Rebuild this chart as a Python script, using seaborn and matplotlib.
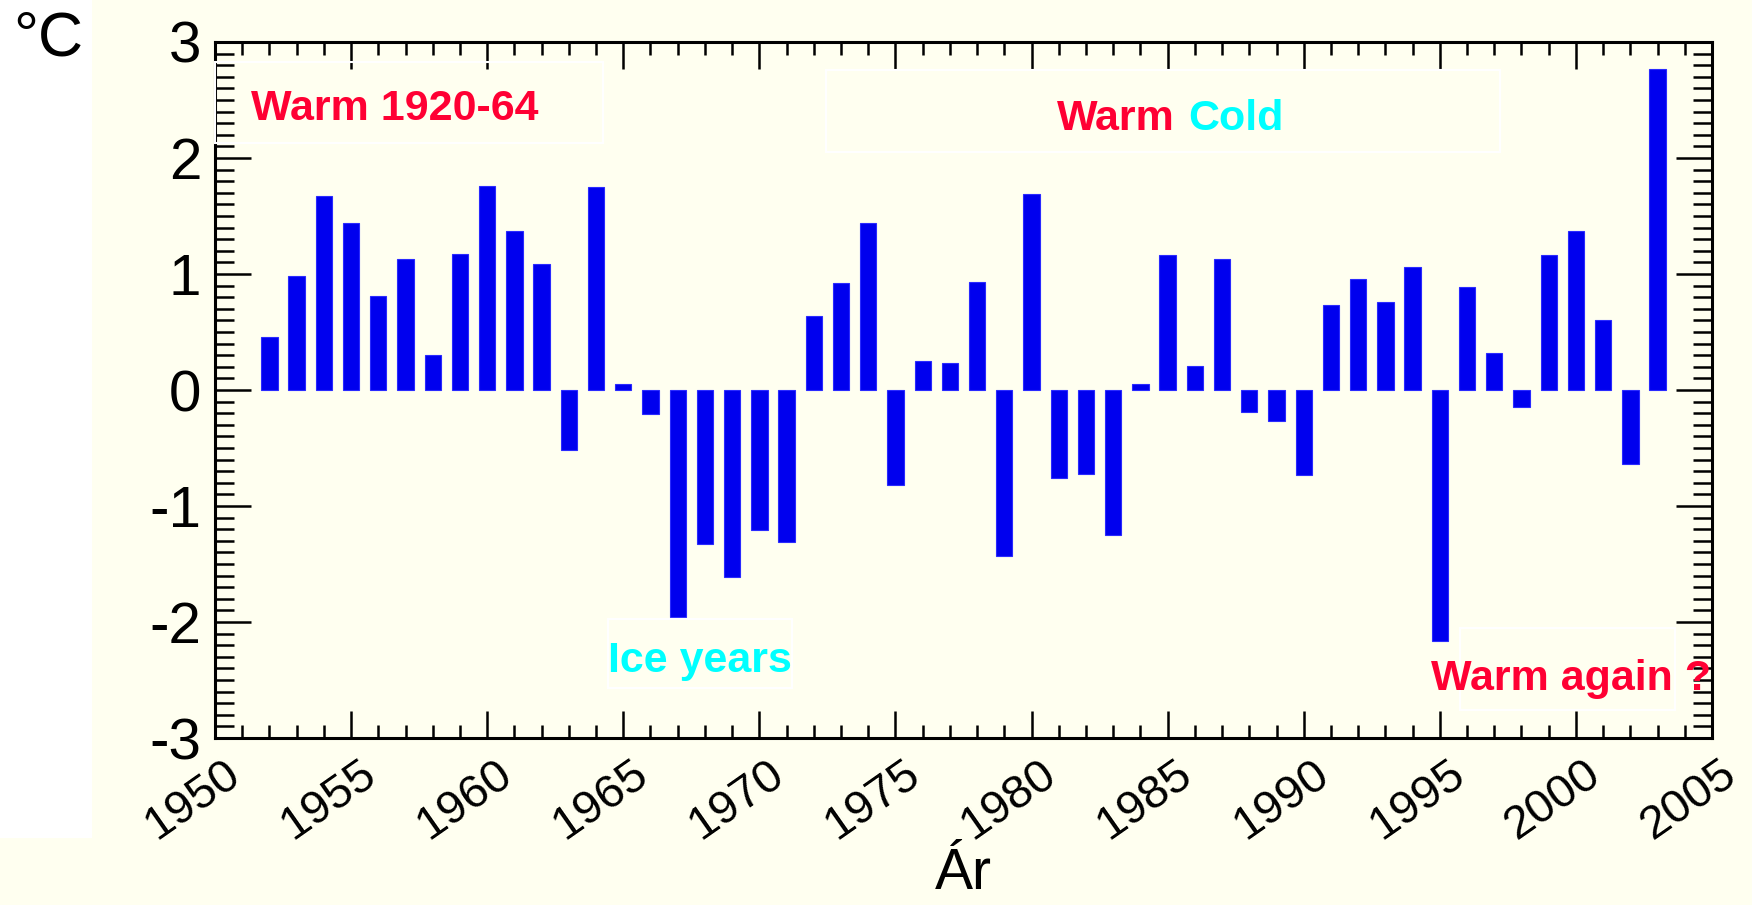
import matplotlib
matplotlib.use("Agg")
import matplotlib.pyplot as plt
import matplotlib.transforms as mtrans
from matplotlib.ticker import MultipleLocator
from matplotlib.patches import Rectangle
import seaborn as sns
import pandas as pd

# ---- data ----
years = list(range(1952, 2004))
anomalies = [
    0.46, 0.98, 1.67, 1.44, 0.81, 1.13, 0.30, 1.17, 1.76, 1.37,   # 1952-1961
    1.09, -0.52, 1.75, 0.05, -0.21, -1.96, -1.33, -1.61, -1.21, -1.31,  # 1962-1971
    0.64, 0.92, 1.44, -0.82, 0.25, 0.23, 0.93, -1.43, 1.69, -0.76,  # 1972-1981
    -0.72, -1.25, 0.055, 1.16, 0.21, 1.13, -0.19, -0.27, -0.73, 0.73,  # 1982-1991
    0.96, 0.76, 1.06, -2.16, 0.89, 0.32, -0.15, 1.16, 1.37, 0.60,  # 1992-2001
    -0.64, 2.77,  # 2002-2003
]
xtick_years = list(range(1950, 2006, 5))
ytick_values = [-3, -2, -1, 0, 1, 2, 3]

BG = "#FFFFF0"
BAR = "#0000EE"
RED = "#FF0033"
CYAN = "#00FFFF"

sns.set_style("ticks")
plt.rcParams["font.family"] = ["Liberation Sans", "DejaVu Sans"]
plt.rcParams["axes.unicode_minus"] = False
plt.rcParams["text.color"] = "black"

W, H = 1752, 905
fig = plt.figure(figsize=(W / 100, H / 100), dpi=100, facecolor=BG)

def fx(x):
    return x / W

def fy(y):
    return 1 - y / H

ax = fig.add_axes([fx(215), fy(738), fx(1712) - fx(215), fy(42) - fy(738)])
ax.set_facecolor(BG)

df = pd.DataFrame({"year": years, "anomaly": anomalies})
sns.barplot(data=df, x="year", y="anomaly", native_scale=True, width=0.6,
            color=BAR, saturation=1, ax=ax, edgecolor="#2A2AFF", linewidth=0.8,
            errorbar=None)

ax.set_xlim(1950, 2005)
ax.set_ylim(-3, 3)
ax.set_xlabel("")
ax.set_ylabel("")
ax.set_xticks(xtick_years)
ax.set_xticklabels([str(y) for y in xtick_years])
ax.set_yticks(ytick_values)
ax.set_yticklabels([str(v) for v in ytick_values])
ax.xaxis.set_minor_locator(MultipleLocator(1))
ax.yaxis.set_minor_locator(MultipleLocator(0.1))
ax.tick_params(which="both", direction="in", top=True, right=True,
               width=1.8, color="black", labelcolor="black")
ax.tick_params(axis="x", which="major", length=19.5)
ax.tick_params(axis="x", which="minor", length=9.5)
ax.tick_params(axis="y", which="major", length=26)
ax.tick_params(axis="y", which="minor", length=13.5)
ax.tick_params(axis="y", which="major", labelsize=42, pad=10)
ax.tick_params(axis="x", which="major", labelsize=34, pad=10)
for s in ax.spines.values():
    s.set_visible(True)
    s.set_linewidth(2.2)
    s.set_color("black")

offset = mtrans.ScaledTranslation(0.33, 0, fig.dpi_scale_trans)
for lbl in ax.get_xticklabels():
    lbl.set_rotation(35)
    lbl.set_ha("right")
    lbl.set_va("top")
    lbl.set_transform(lbl.get_transform() + offset)

# x label
fig.text(fx(963), fy(889), "Ár", fontsize=41, ha="center", va="baseline")

# left white strip with unit
fig.patches.append(Rectangle((0, fy(838)), fx(92), 1 - fy(838), transform=fig.transFigure,
                             facecolor="white", edgecolor="none", zorder=5))
fig.text(fx(13), fy(56), "°C", fontsize=45, ha="left", va="baseline", zorder=6)

# annotation boxes (figure pixel coords)
def box(x0, y0, x1, y1):
    fig.patches.append(Rectangle((fx(x0), fy(y1)), fx(x1) - fx(x0), fy(y0) - fy(y1),
                                 transform=fig.transFigure, facecolor="none",
                                 edgecolor="white", linewidth=1.5, zorder=3))

TXT = dict(fontsize=31, fontweight="bold", va="baseline", zorder=4)

box(215, 62, 603, 143)
fig.text(fx(251), fy(120), "Warm 1920-64", color=RED, ha="left", **TXT)

box(826, 70, 1500, 152)
fig.text(fx(1175), fy(130), "Warm", color=RED, ha="right", **TXT)
fig.text(fx(1188), fy(130), "Cold", color=CYAN, ha="left", **TXT)

box(608, 619, 792, 688)
fig.text(fx(700), fy(672), "Ice years", color=CYAN, ha="center", **TXT)

box(1460, 628, 1675, 710)
fig.text(fx(1711), fy(690), "Warm again ?", color=RED, ha="right", **TXT)

fig.savefig("out.png", dpi=100, facecolor=BG)
